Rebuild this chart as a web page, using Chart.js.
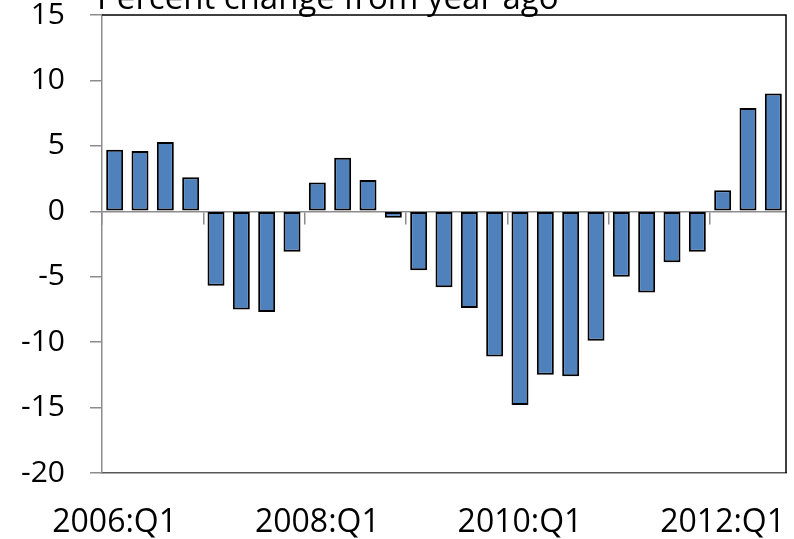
<!DOCTYPE html>
<html>
<head>
<meta charset="utf-8">
<script src="https://cdn.jsdelivr.net/npm/chart.js@4.4.1/dist/chart.umd.min.js"></script>
<style>
html, body { margin: 0; padding: 0; background: #fff; }
#wrap { width: 794px; height: 539px; }
</style>
</head>
<body>
<div id="wrap"><canvas id="chart" width="794" height="539"></canvas></div>
<script>
// quarters 2006:Q1 .. 2012:Q3
const quarters = [
	"2006:Q1", "2006:Q2", "2006:Q3", "2006:Q4",
	"2007:Q1", "2007:Q2", "2007:Q3", "2007:Q4",
	"2008:Q1", "2008:Q2", "2008:Q3", "2008:Q4",
	"2009:Q1", "2009:Q2", "2009:Q3", "2009:Q4",
	"2010:Q1", "2010:Q2", "2010:Q3", "2010:Q4",
	"2011:Q1", "2011:Q2", "2011:Q3", "2011:Q4",
	"2012:Q1", "2012:Q2", "2012:Q3"
];
const pctChange = [
	4.7, 4.6, 5.3, 2.6,
	-5.7, -7.5, -7.7, -3.1,
	2.2, 4.1, 2.4, -0.5,
	-4.5, -5.8, -7.4, -11.1,
	-14.8, -12.5, -12.6, -9.9,
	-5.0, -6.2, -3.9, -3.1,
	1.6, 7.9, 9.0
];
const shownLabels = ["2006:Q1", "2008:Q1", "2010:Q1", "2012:Q1"];
const yMin = -20;
const yMax = 15;
const yStep = 5;
const titleText = "Percent change from year ago";

const fontFam = "'Open Sans', 'DejaVu Sans', sans-serif";
const axisGray = "#8c8c8c";

// title sits above the plot, partly clipped by the top edge
const titlePlugin = {
	id: "topTitle",
	afterDraw(chart) {
		const ctx = chart.ctx;
		ctx.save();
		ctx.fillStyle = "#000";
		ctx.font = "33px " + fontFam;
		ctx.textAlign = "left";
		ctx.textBaseline = "alphabetic";
		ctx.fillText(titleText, 97, 9);
		ctx.restore();
	}
};

// black frame on top and right of the plot
const framePlugin = {
	id: "frame",
	afterDraw(chart) {
		const a = chart.chartArea;
		const ctx = chart.ctx;
		ctx.save();
		ctx.strokeStyle = "#000";
		ctx.lineWidth = 1.5;
		ctx.beginPath();
		ctx.moveTo(a.left, a.top);
		ctx.lineTo(a.right, a.top);
		ctx.lineTo(a.right, a.bottom);
		ctx.stroke();
		ctx.restore();
	}
};

// no extra room for overhanging labels, plot box is fixed
function noPad(s) {
	s.paddingTop = 0;
	s.paddingBottom = 0;
	s.paddingLeft = 0;
	s.paddingRight = 0;
}

const ctx = document.getElementById("chart");
new Chart(ctx, {
	type: "bar",
	data: {
		labels: quarters,
		datasets: [{
			data: pctChange,
			backgroundColor: "#4f81bd",
			borderColor: "#000",
			borderWidth: 2,
			borderSkipped: false,
			barPercentage: 0.67,
			categoryPercentage: 1.0
		}]
	},
	options: {
		responsive: false,
		animation: false,
		layout: { padding: { top: 15, right: 8, left: 0, bottom: 0 } },
		plugins: {
			legend: { display: false },
			tooltip: { enabled: false }
		},
		scales: {
			x: {
				position: "bottom",
				offset: true,
				grid: { display: false, drawTicks: false },
				border: { display: true, color: "#595959", width: 1.5 },
				ticks: {
					autoSkip: false,
					maxRotation: 0,
					padding: 31,
					color: "#000",
					font: { family: fontFam, size: 32 },
					callback: function (v, i) {
						const l = quarters[i];
						return shownLabels.includes(l) ? l : "";
					}
				},
				afterFit: function (s) { s.height = 66; noPad(s); }
			},
			zero: {
				type: "category",
				axis: "x",
				position: { y: 0 },
				offset: true,
				z: 1,
				grid: {
					display: true,
					drawOnChartArea: false,
					drawTicks: true,
					tickLength: 12,
					offset: true,
					lineWidth: 1.5,
					color: (c) => (c.index % 4 === 0 ? axisGray : "rgba(0,0,0,0)")
				},
				border: { display: true, color: axisGray, width: 1.5 },
				ticks: { display: false },
				afterFit: noPad
			},
			y: {
				min: yMin,
				max: yMax,
				ticks: {
					stepSize: yStep,
					padding: 25,
					color: "#000",
					font: { family: fontFam, size: 30 }
				},
				grid: { drawOnChartArea: false, tickLength: 12, color: axisGray, lineWidth: 1.5 },
				border: { display: true, color: axisGray, width: 1.5 },
				afterFit: function (s) { s.width = 102; noPad(s); }
			}
		}
	},
	plugins: [titlePlugin, framePlugin]
});
</script>
</body>
</html>
